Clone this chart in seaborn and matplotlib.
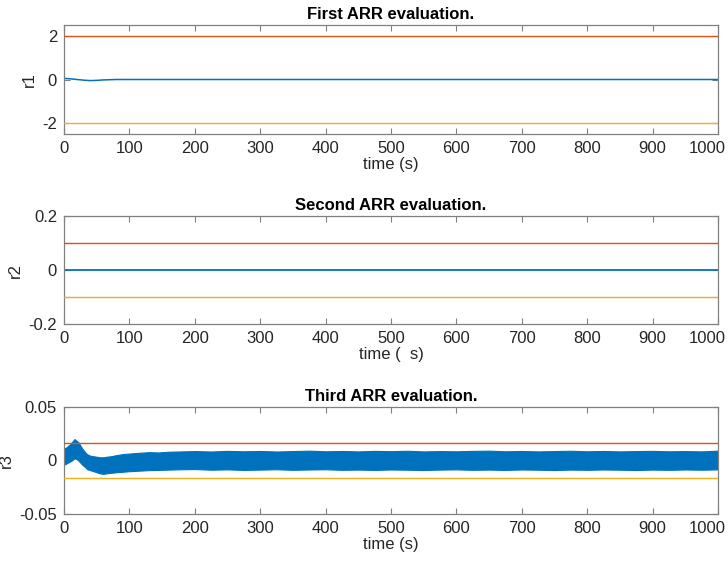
import matplotlib
matplotlib.use("Agg")
import matplotlib.pyplot as plt
import matplotlib.transforms as mtransforms
import seaborn as sns
import pandas as pd

# ---- data ----
t1 = [0, 10, 20, 30, 40, 50, 60, 70, 80, 100, 200, 400, 600, 800, 1000]
r1 = [0.05, 0.03, 0.0, -0.03, -0.05, -0.04, -0.02, -0.01, 0.0, 0.0, 0.0, 0.0, 0.0, 0.0, 0.0]
r1_thr = [2.0, -2.0]

t2 = [0, 1000]
r2 = [0.0, 0.0]
r2_thr = [0.1, -0.1]

t3 = [0, 3, 6, 9, 12, 16, 19, 22, 25, 28, 32, 35, 40, 45, 50, 55, 60, 65, 72, 80,
      90, 100, 115, 130, 145, 160, 180, 200, 225, 250, 275, 300, 325, 350, 375,
      400, 425, 450, 475, 500, 525, 550, 575, 600, 625, 650, 675, 700, 725, 750,
      775, 800, 825, 850, 875, 900, 925, 950, 975, 1000]
r3_upper = [0.011, 0.012, 0.0135, 0.015, 0.017, 0.020, 0.0185, 0.017, 0.014, 0.011,
            0.008, 0.006, 0.0045, 0.004, 0.0035, 0.003, 0.003, 0.0035, 0.004, 0.005,
            0.006, 0.0065, 0.0072, 0.0078, 0.0075, 0.0082, 0.0085, 0.0088, 0.0084,
            0.009, 0.0086, 0.0089, 0.0084, 0.0088, 0.0092, 0.0086, 0.0089, 0.0085,
            0.009, 0.0087, 0.0091, 0.0085, 0.0088, 0.0086, 0.009, 0.0092, 0.0086,
            0.0089, 0.0085, 0.0088, 0.0091, 0.0086, 0.0089, 0.0085, 0.0088, 0.009,
            0.0086, 0.0088, 0.0085, 0.0092]
r3_lower = [-0.004, -0.003, -0.002, -0.001, 0.0, 0.002, 0.0015, 0.0, -0.002, -0.004,
            -0.006, -0.008, -0.009, -0.010, -0.011, -0.012, -0.0125, -0.012, -0.0115,
            -0.011, -0.0105, -0.010, -0.0095, -0.009, -0.0088, -0.0085, -0.0082,
            -0.008, -0.0086, -0.0083, -0.0088, -0.0085, -0.0082, -0.0087, -0.0084,
            -0.0082, -0.0087, -0.0085, -0.0088, -0.0084, -0.0086, -0.0089, -0.0085,
            -0.0083, -0.0087, -0.0085, -0.0088, -0.0084, -0.0086, -0.0089, -0.0085,
            -0.0087, -0.0084, -0.0086, -0.0089, -0.0085, -0.0087, -0.0084, -0.0086,
            -0.0083]
r3_thr = [0.0165, -0.0165]

titles = ["First ARR evaluation.", "Second ARR evaluation.", "Third ARR evaluation."]
xlabels = ["time (s)", "time (  s)", "time (s)"]
ylabels = ["r1", "r2", "r3"]
ylims = [(-2.5, 2.5), (-0.2, 0.2), (-0.05, 0.05)]
yticks = [[-2, 0, 2], [-0.2, -0.1, 0, 0.1, 0.2], [-0.05, 0, 0.05]]
yticklabels = [["-2", "0", "2"], ["-0.2", "", "0", "", "0.2"], ["-0.05", "0", "0.05"]]
xticks = list(range(0, 1001, 100))

BLUE = "#0072BD"
ORANGE = "#D95319"
YELLOW = "#EDB120"
TEXT = "#262626"
SPINE = "#808080"

sns.set_style("white")
plt.rcParams["font.family"] = ["Liberation Sans", "DejaVu Sans"]
plt.rcParams["font.size"] = 12

fig = plt.figure(figsize=(7.28, 5.64), dpi=100)
positions = [
    [64 / 728, 1 - 134 / 564, 654 / 728, 109 / 564],
    [64 / 728, 1 - 324 / 564, 654 / 728, 108 / 564],
    [64 / 728, 1 - 514 / 564, 654 / 728, 107 / 564],
]
axes = [fig.add_axes(p) for p in positions]

thrs = [r1_thr, r2_thr, r3_thr]

for i, ax in enumerate(axes):
    hi, lo = thrs[i]
    if i == 0:
        df = pd.DataFrame({"t": t1, "r": r1})
        sns.lineplot(data=df, x="t", y="r", ax=ax, color=BLUE, linewidth=1.1)
    elif i == 1:
        df = pd.DataFrame({"t": t2, "r": r2})
        sns.lineplot(data=df, x="t", y="r", ax=ax, color=BLUE, linewidth=1.3)
    else:
        ax.fill_between(t3, r3_lower, r3_upper, color=BLUE, linewidth=0.8,
                        edgecolor=BLUE)
    ax.axhline(hi, color=ORANGE, linewidth=1.0, zorder=3)
    ax.axhline(lo, color=YELLOW, linewidth=1.0, zorder=3)

    ax.set_xlim(0, 1000)
    ax.set_ylim(*ylims[i])
    ax.set_xticks(xticks)
    ax.set_xticklabels([str(x) for x in xticks])
    ax.set_yticks(yticks[i])
    ax.set_yticklabels(yticklabels[i])
    ax.set_title(titles[i], fontweight="bold", fontsize=12, color="black", pad=4)
    ax.set_xlabel(xlabels[i], fontsize=12, color=TEXT, labelpad=1)
    ax.set_ylabel(ylabels[i], fontsize=12, color=TEXT, labelpad=4)
    ax.tick_params(direction="in", length=4, width=0.8, color=SPINE,
                   labelcolor=TEXT, labelsize=12, top=True, right=True,
                   bottom=True, left=True, pad=5)
    for s in ax.spines.values():
        s.set_visible(True)
        s.set_color(SPINE)
        s.set_linewidth(0.9)
    ax.grid(False)
    last = ax.get_xticklabels()[-1]
    last.set_transform(last.get_transform() +
                       mtransforms.ScaledTranslation(-0.11, 0, fig.dpi_scale_trans))

fig.savefig("out.png", dpi=100)
